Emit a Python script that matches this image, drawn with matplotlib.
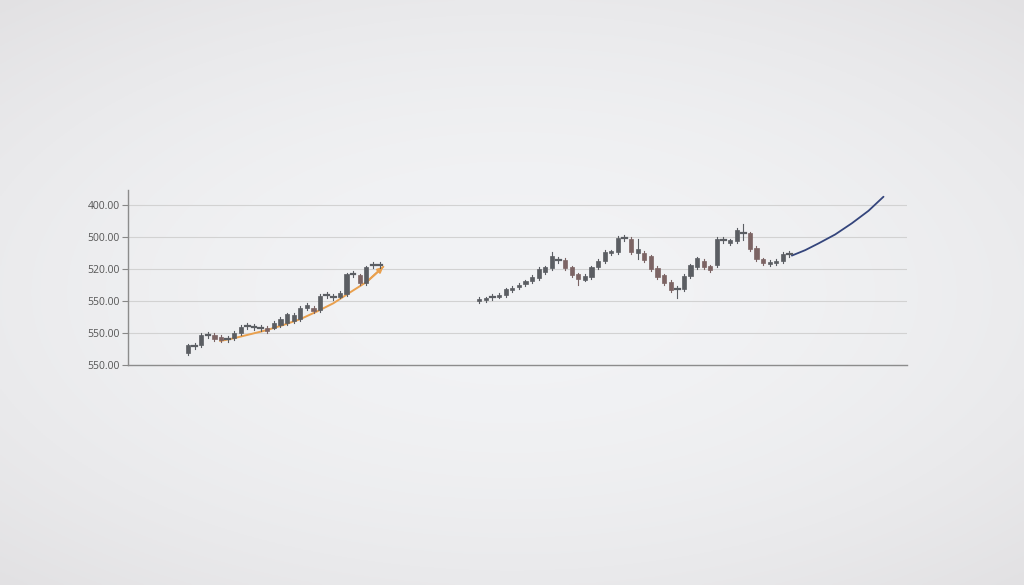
import numpy as np
import matplotlib
matplotlib.use("Agg")
import matplotlib.pyplot as plt
from matplotlib.patches import Rectangle

# y tick labels as printed on the chart (bottom to top)
tick_labels = ['550.00', '550.00', '550.00', '520.00', '500.00', '400.00']

# first cluster of candles (open, close) in axis units
g1_open = [0.37, 0.59, 0.62, 0.94, 0.94, 0.875, 0.81, 0.84, 1.00, 1.22,
           1.19, 1.16, 1.16, 1.16, 1.25, 1.31, 1.37, 1.44, 1.78, 1.78,
           1.72, 2.19, 2.13, 2.13, 2.22, 2.84, 2.81, 2.56, 3.12, 3.12]
g1_close = [0.62, 0.59, 0.94, 0.94, 0.81, 0.78, 0.81, 1.00, 1.19, 1.22,
            1.19, 1.16, 1.06, 1.31, 1.44, 1.59, 1.56, 1.78, 1.875, 1.69,
            2.16, 2.19, 2.13, 2.25, 2.84, 2.84, 2.56, 3.06, 3.12, 3.12]

# second cluster
g2_open = [2.00, 2.03, 2.13, 2.13, 2.19, 2.34, 2.44, 2.53, 2.62, 2.72,
           2.90, 3.03, 3.28, 3.28, 3.06, 2.84, 2.66, 2.75, 3.06, 3.25,
           3.50, 3.53, 3.97, 3.94, 3.50, 3.50, 3.40, 3.03, 2.81, 2.60,
           2.37, 2.37, 2.78, 3.06, 3.25, 3.09, 3.12, 3.90, 3.81, 3.87,
           4.12, 4.12, 3.66, 3.31, 3.16, 3.19, 3.25, 3.47]
g2_close = [2.06, 2.09, 2.13, 2.19, 2.37, 2.41, 2.50, 2.62, 2.75, 3.00,
            3.06, 3.40, 3.28, 3.03, 2.81, 2.69, 2.78, 3.06, 3.25, 3.53,
            3.56, 3.97, 3.97, 3.53, 3.62, 3.28, 3.00, 2.75, 2.56, 2.34,
            2.37, 2.78, 3.12, 3.34, 3.06, 2.97, 3.94, 3.90, 3.90, 4.22,
            4.12, 3.62, 3.31, 3.19, 3.22, 3.25, 3.47, 3.47]
# longer wicks on a few candles
g2_high_extra = {11: 0.08, 24: 0.28, 40: 0.18}
g2_low_extra = {15: 0.14, 24: 0.15, 30: 0.17, 40: 0.12}

g1_start = 9.1
g2_start = 53.2

# trend curves
orange_x = [13.94, 15.91, 18.48, 21.02, 23.53, 26.06, 28.59, 31.11, 33.64, 36.17, 38.68]
orange_y = [0.75, 0.83, 0.96, 1.09, 1.25, 1.43, 1.67, 1.93, 2.27, 2.60, 3.07]
blue_x = [100.56, 102.58, 104.59, 107.12, 109.65, 112.17, 114.44]
blue_y = [3.42, 3.59, 3.80, 4.08, 4.43, 4.82, 5.26]

up_color = '#5b5e63'
down_color = '#7c6464'

fig = plt.figure(figsize=(10.24, 5.85), dpi=100)

# soft vignette background
bg = fig.add_axes([0, 0, 1, 1], zorder=0)
yy, xx = np.mgrid[-1:1:300j, -1:1:500j]
r = np.sqrt(xx ** 2 * 0.8 + yy ** 2)
shade = np.clip(1 - 0.55 * r ** 2, 0, 1)
c_in = np.array([0xf2, 0xf3, 0xf5]) / 255
c_out = np.array([0xe2, 0xe1, 0xe3]) / 255
img = c_out + (c_in - c_out) * shade[..., None]
bg.imshow(img, aspect='auto', extent=[0, 1, 0, 1])
bg.axis('off')

ax = fig.add_axes([128 / 1024, 1 - 365 / 585, 779 / 1024, 175 / 585], zorder=1)
ax.set_facecolor('none')
ax.set_xlim(0, 118)
ax.set_ylim(0, 5.47)


def draw_candles(start, opens, closes, hi_extra, lo_extra):
    for i, (o, c) in enumerate(zip(opens, closes)):
        x = start + i
        lo, hi = min(o, c), max(o, c)
        col = down_color if o > c else up_color
        if abs(o - c) < 0.02:
            # doji: small cross
            ax.plot([x, x], [o - 0.1 - lo_extra.get(i, 0), o + 0.1 + hi_extra.get(i, 0)],
                    color=up_color, lw=0.8, zorder=3)
            ax.plot([x - 0.35, x + 0.35], [o, o], color=up_color, lw=1.6, zorder=3)
            continue
        ax.plot([x, x], [lo - 0.05 - lo_extra.get(i, 0), hi + 0.05 + hi_extra.get(i, 0)],
                color=col, lw=0.8, zorder=3)
        ax.add_patch(Rectangle((x - 0.32, lo), 0.64, hi - lo, facecolor=col,
                               edgecolor=col, lw=0.5, zorder=4))


draw_candles(g1_start, g1_open, g1_close, {}, {})
draw_candles(g2_start, g2_open, g2_close, g2_high_extra, g2_low_extra)

ax.plot(orange_x, orange_y, color='#e9a04e', lw=1.4, zorder=2, solid_capstyle='round')
ax.annotate('', xy=(orange_x[-1], orange_y[-1]), xytext=(orange_x[-2], orange_y[-2]),
            arrowprops=dict(arrowstyle='-|>', color='#e9a04e', lw=1.4,
                            mutation_scale=8, shrinkA=0, shrinkB=0), zorder=2)
ax.plot(blue_x, blue_y, color='#34457c', lw=1.3, zorder=2, solid_capstyle='round')

ax.set_yticks(range(len(tick_labels)))
ax.set_yticklabels(tick_labels, fontsize=7.5, color='#555555', family='Open Sans')
ax.set_xticks([])
ax.tick_params(axis='y', length=4, width=0.8, color='#888888', pad=2)
for y in range(1, len(tick_labels)):
    ax.axhline(y, color='#d2d2d2', lw=0.8, zorder=1)
ax.spines['top'].set_visible(False)
ax.spines['right'].set_visible(False)
ax.spines['left'].set_color('#8c8c8c')
ax.spines['bottom'].set_color('#8c8c8c')
ax.spines['left'].set_linewidth(1.0)
ax.spines['bottom'].set_linewidth(1.0)

fig.savefig('out.png', dpi=100)
